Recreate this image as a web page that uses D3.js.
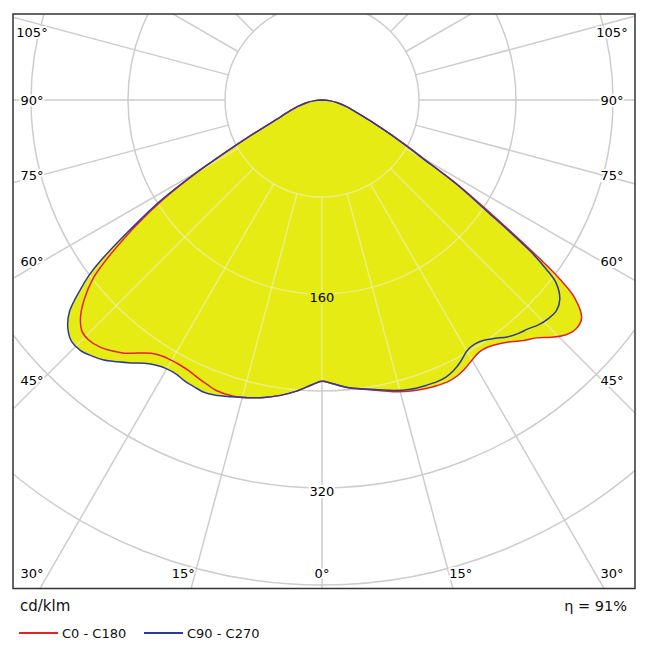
<!DOCTYPE html>
<html><head><meta charset="utf-8">
<script src="https://cdn.jsdelivr.net/npm/d3@7"></script>
<style>body{margin:0;background:#fff}</style>
</head><body><svg id="c" width="650" height="650"></svg>
<script>
// ---- data (cd/klm) ----
const gammaDeg = [0,2,5,8,11,14,17,20,22,24,26,28,30,32,34,36,38,40,42,44,46,48,50,52,53,54,56,58,60,61,63,65,67,70,75,80,85,90];
// C0 (red, right half)
const c0   = [232,234,238,241,244,248,251,253,254,254.5,253.5,251,247.6,245,245.5,248.5,253,259,264,272,279,282,279.5,264,246,220,170,133,97,86,67,52,42,31,21,13,6,0];
// C180 (red, left half)
const c180 = [232,235,241,246,250,253,255,255,253,251,249,248,248,249,252,258,265,270,274,276,275,268,256,240,228,214,185,154,118,99,71,52,40,31,21,13,6,0];
// C90 (blue, right half)
const c90  = [232,234,238,240.5,243.5,247,249.5,250.5,251,250.5,248,244,239,237.5,239,243,248,251.5,254,257.5,259.5,260,256,245,231,213,164,130,95,84,66,52,42,31,21,13,6,0];
// C270 (blue, left half)
const c270 = [232,235,241,246,250,253,256,259,260,259,258,256,256,258,262,268,274,280,284,287,287,282,272,252,241,226,190,158,120,100,72,52,40,31,21,13,6,0];

const ringValues = [80,160,240,320,400,480];
const ringLabels = [160,320];
const angleTicks = [0,15,30,45,60,75,90,105,120,135,150,165,180];
const sideLabels = [45,60,75,90,105];
const bottomLabels = [0,15,30];
const unitLabel = "cd/klm";
const effLabel = "η = 91%";
const seriesNames = ["C0 - C180","C90 - C270"];
const seriesColors = ["#e3202c","#2d3a9c"];

// ---- layout ----
const cx = 322, cy = 100;
const frame = {x:13, y:14, w:622, h:574.5};
const r = d3.scaleLinear().domain([0,80]).range([0,97]);
const rad = d => d*Math.PI/180;
const FONT = "DejaVu Sans";
const fillColor = "#e6eb14";

const svg = d3.select("#c");
const defs = svg.append("defs");
defs.append("clipPath").attr("id","frameClip").append("rect")
  .attr("x",frame.x).attr("y",frame.y).attr("width",frame.w).attr("height",frame.h);

function curvePoints(left, right){
  const pts = [];
  for (let i = gammaDeg.length-1; i >= 0; i--) pts.push({a: Math.PI + rad(gammaDeg[i]), v: left[i]});
  for (let i = 1; i < gammaDeg.length; i++) pts.push({a: Math.PI - rad(gammaDeg[i]), v: right[i]});
  return pts;
}
const radial = d3.lineRadial().angle(d=>d.a).radius(d=>r(d.v)).curve(d3.curveCatmullRom.alpha(0.5));
const curves = [curvePoints(c180, c0), curvePoints(c270, c90)];

const fillClip = defs.append("clipPath").attr("id","fillClip");
curves.forEach(p => fillClip.append("path").attr("transform",`translate(${cx},${cy})`).attr("d", radial(p)+"Z"));

const root = svg.append("g").attr("clip-path","url(#frameClip)");

function drawGrid(g, color, width){
  const gg = g.append("g").attr("transform",`translate(${cx},${cy})`);
  gg.selectAll("circle").data(ringValues).join("circle")
    .attr("r", d=>r(d)).attr("fill","none").attr("stroke",color).attr("stroke-width",width);
  const rays = [];
  angleTicks.forEach(t => { rays.push(t); if (t>0 && t<180) rays.push(-t); });
  gg.selectAll("line").data(rays).join("line")
    .attr("x1", d=>r(80)*Math.sin(rad(d))).attr("y1", d=>r(80)*Math.cos(rad(d)))
    .attr("x2", d=>900*Math.sin(rad(d))).attr("y2", d=>900*Math.cos(rad(d)))
    .attr("stroke",color).attr("stroke-width",width);
}

drawGrid(root, "#cdcdcd", 1.5);
const fg = root.append("g").attr("transform",`translate(${cx},${cy})`);
curves.forEach(p => fg.append("path").attr("d", radial(p)+"Z").attr("fill",fillColor).attr("stroke","none"));
const gOver = root.append("g").attr("clip-path","url(#fillClip)");
drawGrid(gOver, "rgba(240,240,200,0.6)", 1.5);
const lg = root.append("g").attr("transform",`translate(${cx},${cy})`);
curves.forEach((p,i) => lg.append("path").attr("d", radial(p)).attr("fill","none")
  .attr("stroke",seriesColors[i]).attr("stroke-width",1.5).attr("stroke-linejoin","round"));

root.selectAll("text.ring").data(ringLabels).join("text").attr("class","ring")
  .attr("x",cx).attr("y",d=>cy + r(d) + 3)
  .attr("text-anchor","middle").attr("dominant-baseline","central")
  .attr("font-family",FONT).attr("font-size",13).attr("fill","#000")
  .attr("stroke", d => d < c0[0] ? fillColor : "#fff").attr("stroke-width",4).attr("paint-order","stroke")
  .text(d=>d);

const labs = [];
sideLabels.forEach(g => {
  let y = cy + 280/Math.tan(rad(g)); y = Math.max(y, 32);
  labs.push({t:g, x:cx-290, y}); labs.push({t:g, x:cx+290, y});
});
bottomLabels.forEach(g => {
  const off = Math.min(518*Math.tan(rad(g)), 290);
  labs.push({t:g, x:cx-off, y:573});
  if (g>0) labs.push({t:g, x:cx+off, y:573});
});
svg.selectAll("text.ang").data(labs).join("text").attr("class","ang")
  .attr("x",d=>d.x).attr("y",d=>d.y)
  .attr("text-anchor","middle").attr("dominant-baseline","central")
  .attr("font-family",FONT).attr("font-size",13).attr("fill","#000")
  .attr("stroke","#fff").attr("stroke-width",4).attr("paint-order","stroke")
  .text(d=>d.t+"°");

svg.append("rect").attr("x",frame.x).attr("y",frame.y).attr("width",frame.w).attr("height",frame.h)
  .attr("fill","none").attr("stroke","#333").attr("stroke-width",1.5);

svg.append("text").attr("x",20).attr("y",606).attr("dominant-baseline","central")
  .attr("font-family",FONT).attr("font-size",15).attr("fill","#111").text(unitLabel);
svg.append("text").attr("x",627).attr("y",606).attr("text-anchor","end").attr("dominant-baseline","central")
  .attr("font-family",FONT).attr("font-size",14.5).attr("fill","#111").text(effLabel);
const legX = [19,144];
seriesNames.forEach((n,i) => {
  svg.append("line").attr("x1",legX[i]).attr("x2",legX[i]+39).attr("y1",633).attr("y2",633)
    .attr("stroke",seriesColors[i]).attr("stroke-width",2);
  svg.append("text").attr("x",legX[i]+43).attr("y",633).attr("dominant-baseline","central")
    .attr("font-family",FONT).attr("font-size",13).attr("fill","#111").text(n);
});
</script></body></html>
